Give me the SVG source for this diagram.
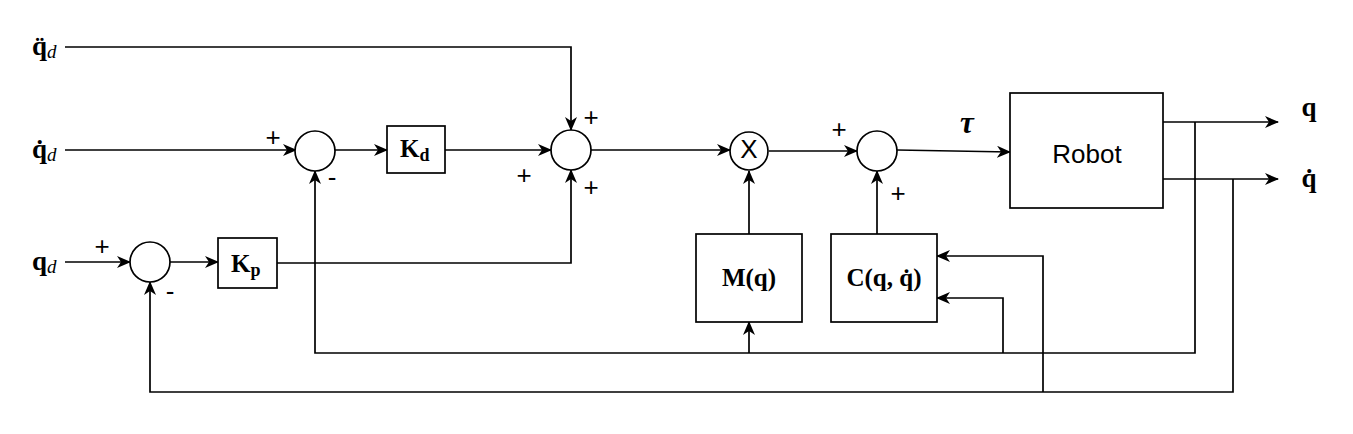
<svg xmlns="http://www.w3.org/2000/svg" width="1353" height="434" viewBox="0 0 1353 434">
<defs>
<marker id="arr" markerUnits="userSpaceOnUse" markerWidth="14" markerHeight="12" refX="13" refY="6" orient="auto">
<path d="M0,0 L14,6 L0,12 L4,6 z" fill="#000"/>
</marker>
<style>
.c{fill:none;stroke:#000;stroke-width:1.7;marker-end:url(#arr)}
.n{fill:#fff;stroke:#000;stroke-width:1.7}
.s{font-family:"Liberation Sans",Arial,sans-serif;font-size:26px;fill:#000;text-anchor:middle}
.b{font-family:"Liberation Serif","Times New Roman",serif;font-weight:bold;fill:#000}
</style>
</defs>
<rect width="1353" height="434" fill="#fff"/>
<g id="connectors">
<path class="c" d="M65,47 H571 V130"/>
<path class="c" d="M65,150 H296"/>
<path class="c" d="M335,150 H387"/>
<path class="c" d="M445,150 H551"/>
<path class="c" d="M65,262 H130"/>
<path class="c" d="M170,262 H218"/>
<path class="c" d="M277,263 H571 V170"/>
<path class="c" d="M591,150 H730"/>
<path class="c" d="M769,151 H857"/>
<path class="c" d="M749,234 V171"/>
<path class="c" d="M877,234 V171"/>
<path class="c" d="M897,150 L1010,152"/>
<path class="c" d="M1163,122 H1278"/>
<path class="c" d="M1163,179 H1278"/>
<path class="c" d="M1195,122 V353 H315 V171"/>
<path class="c" d="M749,353 V322"/>
<path class="c" d="M1003,353 V298 H937"/>
<path class="c" d="M1233,179 V392 H150 V282"/>
<path class="c" d="M1043,392 V256 H937"/>
</g>
<g id="label-qdd"><text class="b" x="32" y="55" font-size="27">q̈<tspan font-style="italic" font-weight="normal" font-size="19" dy="3">d</tspan></text></g>
<g id="label-qd-dot"><text class="b" x="32" y="158" font-size="27">q̇<tspan font-style="italic" font-weight="normal" font-size="19" dy="3">d</tspan></text></g>
<g id="label-qd"><text class="b" x="32" y="270" font-size="27">q<tspan font-style="italic" font-weight="normal" font-size="19" dy="3">d</tspan></text></g>
<g id="sum1"><circle class="n" cx="315" cy="151" r="20"/><text class="s" x="273" y="146">+</text><text class="s" x="332" y="186">-</text></g>
<g id="kd"><rect class="n" x="387" y="126" width="58" height="47"/><text class="b" x="400" y="157" font-size="25">K<tspan font-size="18" dy="4">d</tspan></text></g>
<g id="sum2"><circle class="n" cx="571" cy="150" r="20"/><text class="s" x="591" y="126">+</text><text class="s" x="524" y="184">+</text><text class="s" x="591" y="196">+</text></g>
<g id="sumq"><circle class="n" cx="150" cy="262" r="20"/><text class="s" x="102" y="255">+</text><text class="s" x="170" y="300">-</text></g>
<g id="kp"><rect class="n" x="218" y="238" width="59" height="50"/><text class="b" x="231" y="272" font-size="25">K<tspan font-size="18" dy="4">p</tspan></text></g>
<g id="mult"><circle class="n" cx="749" cy="151" r="19"/><text class="s" x="749" y="158" font-size="19">X</text></g>
<g id="sum3"><circle class="n" cx="877" cy="151" r="20"/><text class="s" x="839" y="138">+</text><text class="s" x="898" y="202">+</text></g>
<g id="mq"><rect class="n" x="696" y="234" width="106" height="88"/><text class="b" x="749" y="286" font-size="25" text-anchor="middle">M(q)</text></g>
<g id="cq"><rect class="n" x="831" y="234" width="106" height="88"/><text class="b" x="884" y="286" font-size="25" text-anchor="middle">C(q, q̇)</text></g>
<g id="robot"><rect class="n" x="1010" y="93" width="153" height="115"/><text class="s" x="1087" y="163" font-size="26">Robot</text></g>
<g id="label-tau"><text class="b" x="967" y="133" font-size="31" font-style="italic" text-anchor="middle">τ</text></g>
<g id="label-q"><text class="b" x="1309" y="116" font-size="27" text-anchor="middle">q</text></g>
<g id="label-qdot"><text class="b" x="1309" y="187" font-size="27" text-anchor="middle">q̇</text></g>
</svg>
